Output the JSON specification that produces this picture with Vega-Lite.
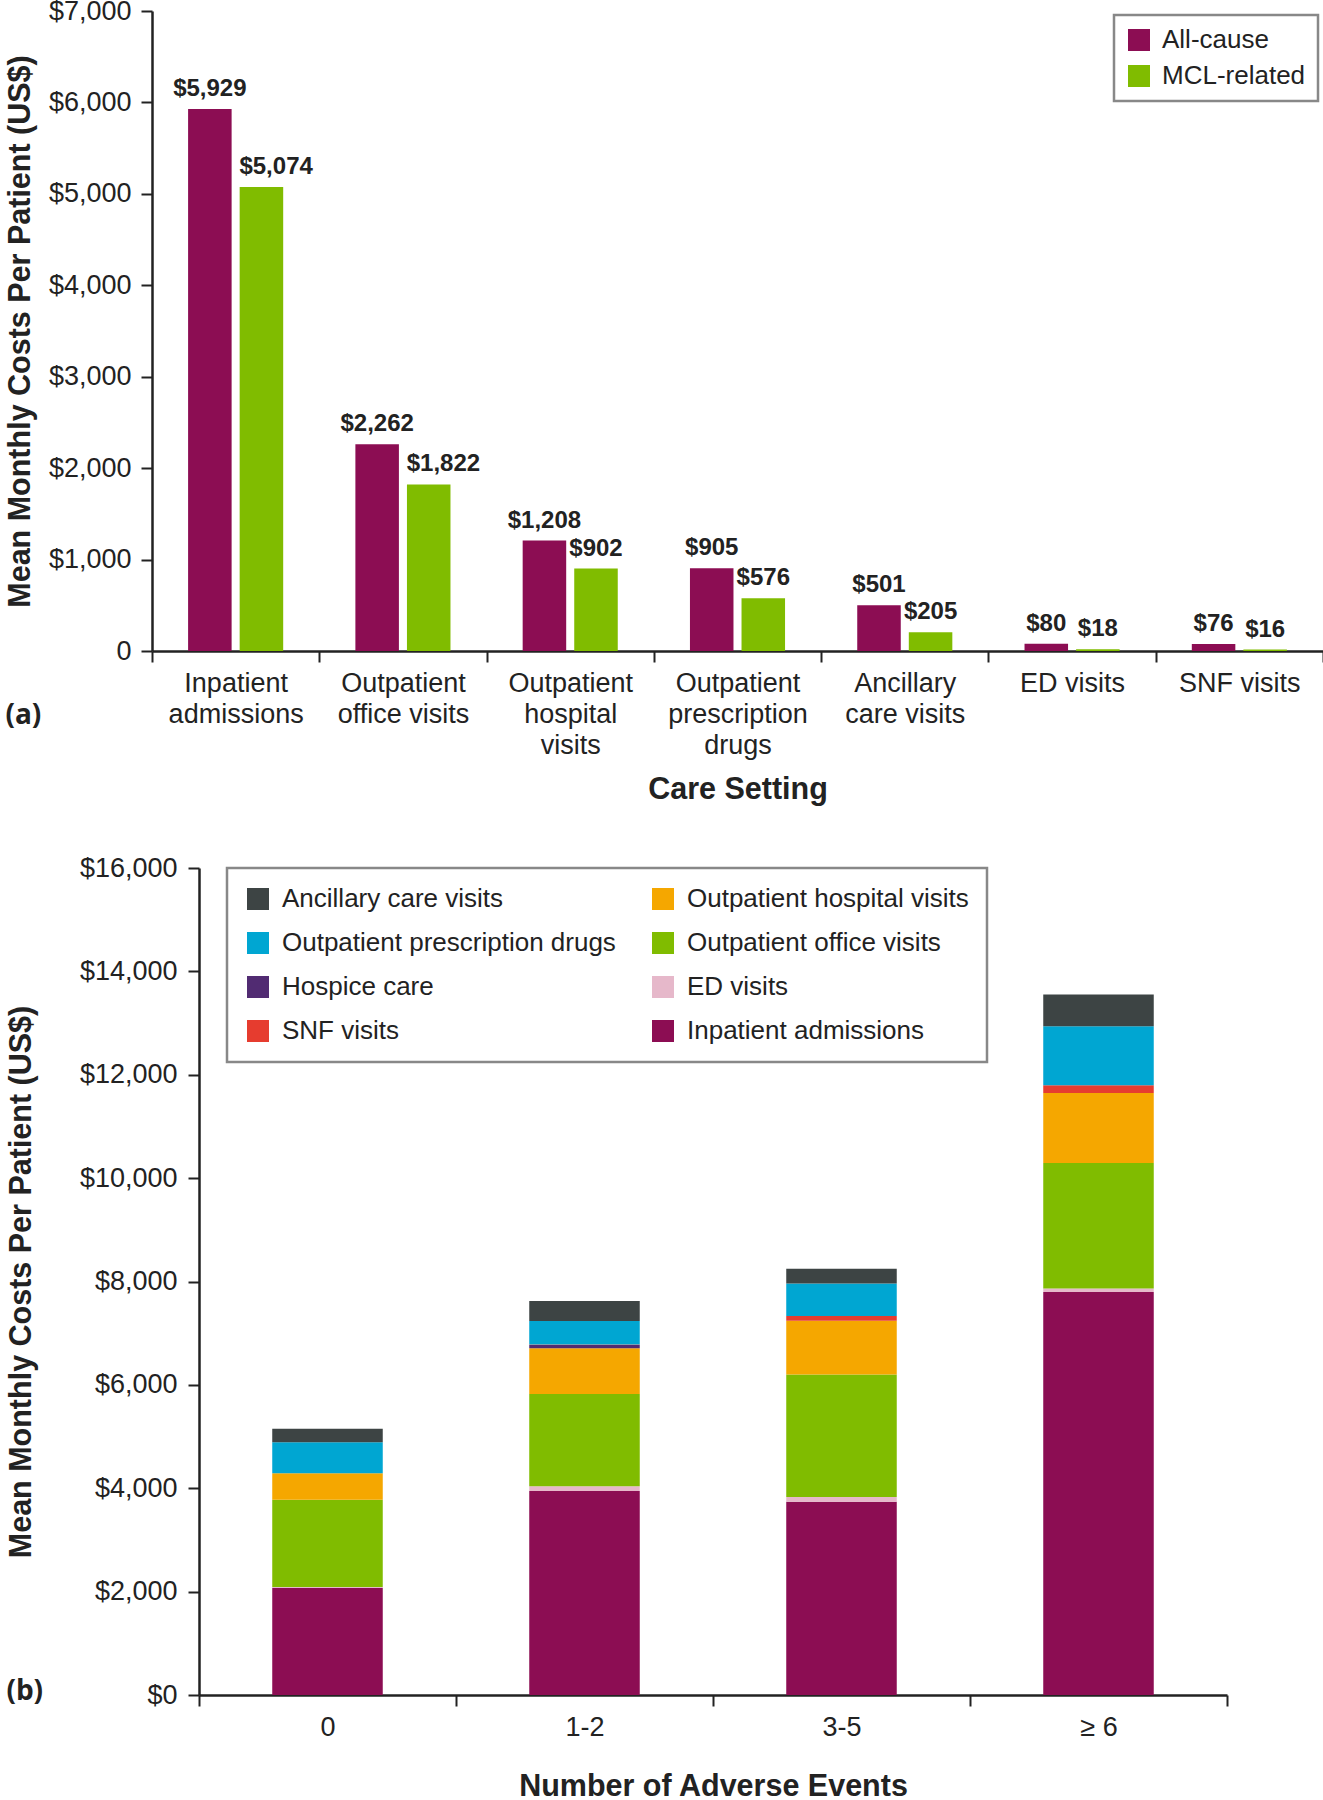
{
  "$schema": "https://vega.github.io/schema/vega-lite/v6.json",
  "padding": {"left": 5, "top": -3, "right": 0, "bottom": 0},
  "background": "white",
  "spacing": 49,
  "config": {
    "font": "Liberation Sans",
    "view": {"stroke": null},
    "axis": {
      "labelFont": "Liberation Sans", "labelFontSize": 27, "labelColor": "#222",
      "titleFont": "Liberation Sans", "titleFontSize": 30.5, "titleFontWeight": "bold", "titleColor": "#222",
      "domainColor": "#222", "domainWidth": 2.5, "tickColor": "#222", "tickWidth": 2, "tickSize": 11, "grid": false
    },
    "legend": {"strokeWidth": 2.5, "labelFont": "Liberation Sans", "labelFontSize": 26, "labelColor": "#222", "labelLimit": 600}
  },
  "resolve": {"scale": {"color": "independent"}, "legend": {"color": "independent"}},
  "vconcat": [
    {
      "width": 1171,
      "height": 640,
      "title": {"text": "(a)", "orient": "bottom", "anchor": "start", "frame": "bounds", "font": "Open Sans", "fontWeight": "bold", "fontSize": 28, "color": "#222", "dy": -107},
      "data": {"values": [
        {"setting": "Inpatient admissions", "type": "All-cause", "cost": 5929},
        {"setting": "Inpatient admissions", "type": "MCL-related", "cost": 5074},
        {"setting": "Outpatient office visits", "type": "All-cause", "cost": 2262},
        {"setting": "Outpatient office visits", "type": "MCL-related", "cost": 1822},
        {"setting": "Outpatient hospital visits", "type": "All-cause", "cost": 1208},
        {"setting": "Outpatient hospital visits", "type": "MCL-related", "cost": 902},
        {"setting": "Outpatient prescription drugs", "type": "All-cause", "cost": 905},
        {"setting": "Outpatient prescription drugs", "type": "MCL-related", "cost": 576},
        {"setting": "Ancillary care visits", "type": "All-cause", "cost": 501},
        {"setting": "Ancillary care visits", "type": "MCL-related", "cost": 205},
        {"setting": "ED visits", "type": "All-cause", "cost": 80},
        {"setting": "ED visits", "type": "MCL-related", "cost": 18},
        {"setting": "SNF visits", "type": "All-cause", "cost": 76},
        {"setting": "SNF visits", "type": "MCL-related", "cost": 16}
      ]},
      "encoding": {
        "x": {
          "field": "setting", "type": "nominal",
          "sort": ["Inpatient admissions", "Outpatient office visits", "Outpatient hospital visits", "Outpatient prescription drugs", "Ancillary care visits", "ED visits", "SNF visits"],
          "scale": {"paddingInner": 0, "paddingOuter": 0},
          "axis": {
            "title": "Care Setting", "labelAngle": 0, "tickBand": "extent", "labelPadding": 8, "titlePadding": 16,
            "labelLineHeight": 31, "labelBaseline": "top",
            "labelExpr": "datum.value == 'Inpatient admissions' ? ['Inpatient','admissions'] : datum.value == 'Outpatient office visits' ? ['Outpatient','office visits'] : datum.value == 'Outpatient hospital visits' ? ['Outpatient','hospital','visits'] : datum.value == 'Outpatient prescription drugs' ? ['Outpatient','prescription','drugs'] : datum.value == 'Ancillary care visits' ? ['Ancillary','care visits'] : datum.label"
          }
        },
        "xOffset": {"field": "type", "type": "nominal", "sort": ["All-cause", "MCL-related"], "scale": {"paddingInner": 0.156, "paddingOuter": 0.7}},
        "y": {
          "field": "cost", "type": "quantitative",
          "scale": {"domain": [0, 7000], "nice": false},
          "axis": {
            "title": "Mean Monthly Costs Per Patient (US$)", "values": [0, 1000, 2000, 3000, 4000, 5000, 6000, 7000],
            "labelExpr": "datum.value == 0 ? '0' : '$' + format(datum.value, ',')",
            "labelPadding": 10, "titlePadding": 13
          }
        }
      },
      "layer": [
        {
          "mark": {"type": "bar"},
          "encoding": {
            "color": {
              "field": "type", "type": "nominal",
              "scale": {"domain": ["All-cause", "MCL-related"], "range": ["#8C0D53", "#80BC00"]},
              "legend": {"title": null, "orient": "none", "legendX": 962, "legendY": 4, "symbolType": "square", "symbolSize": 484, "symbolStrokeWidth": 0, "strokeColor": "#888", "padding": 12, "rowPadding": 10, "labelOffset": 10}
            }
          }
        },
        {
          "transform": [{"filter": "datum.type == 'All-cause' || datum.cost < 1000"}],
          "mark": {"type": "text", "fontWeight": "bold", "fontSize": 24, "baseline": "bottom", "dy": -8, "color": "#222"},
          "encoding": {"text": {"field": "cost", "type": "quantitative", "format": "$,.0f"}}
        },
        {
          "transform": [{"filter": "datum.type == 'MCL-related' && datum.cost >= 1000"}],
          "mark": {"type": "text", "fontWeight": "bold", "fontSize": 24, "baseline": "bottom", "align": "left", "dx": -22, "dy": -8, "color": "#222"},
          "encoding": {"text": {"field": "cost", "type": "quantitative", "format": "$,.0f"}}
        }
      ]
    },
    {
      "width": 1075,
      "height": 827,
      "title": {"text": "(b)", "orient": "bottom", "anchor": "start", "frame": "bounds", "font": "Open Sans", "fontWeight": "bold", "fontSize": 28, "color": "#222", "dy": -128},
      "data": {"values": [
        {"events": "0", "category": "Inpatient admissions", "cost": 2074},
        {"events": "0", "category": "ED visits", "cost": 15},
        {"events": "0", "category": "Outpatient office visits", "cost": 1690},
        {"events": "0", "category": "Outpatient hospital visits", "cost": 511},
        {"events": "0", "category": "Hospice care", "cost": 0},
        {"events": "0", "category": "SNF visits", "cost": 0},
        {"events": "0", "category": "Outpatient prescription drugs", "cost": 600},
        {"events": "0", "category": "Ancillary care visits", "cost": 262},
        {"events": "1-2", "category": "Inpatient admissions", "cost": 3948},
        {"events": "1-2", "category": "ED visits", "cost": 89},
        {"events": "1-2", "category": "Outpatient office visits", "cost": 1785},
        {"events": "1-2", "category": "Outpatient hospital visits", "cost": 889},
        {"events": "1-2", "category": "Hospice care", "cost": 60},
        {"events": "1-2", "category": "SNF visits", "cost": 10},
        {"events": "1-2", "category": "Outpatient prescription drugs", "cost": 455},
        {"events": "1-2", "category": "Ancillary care visits", "cost": 385},
        {"events": "3-5", "category": "Inpatient admissions", "cost": 3741},
        {"events": "3-5", "category": "ED visits", "cost": 88},
        {"events": "3-5", "category": "Outpatient office visits", "cost": 2370},
        {"events": "3-5", "category": "Outpatient hospital visits", "cost": 1040},
        {"events": "3-5", "category": "Hospice care", "cost": 0},
        {"events": "3-5", "category": "SNF visits", "cost": 95},
        {"events": "3-5", "category": "Outpatient prescription drugs", "cost": 625},
        {"events": "3-5", "category": "Ancillary care visits", "cost": 290},
        {"events": "≥ 6", "category": "Inpatient admissions", "cost": 7796},
        {"events": "≥ 6", "category": "ED visits", "cost": 70},
        {"events": "≥ 6", "category": "Outpatient office visits", "cost": 2428},
        {"events": "≥ 6", "category": "Outpatient hospital visits", "cost": 1355},
        {"events": "≥ 6", "category": "Hospice care", "cost": 0},
        {"events": "≥ 6", "category": "SNF visits", "cost": 147},
        {"events": "≥ 6", "category": "Outpatient prescription drugs", "cost": 1142},
        {"events": "≥ 6", "category": "Ancillary care visits", "cost": 614}
      ]},
      "transform": [
        {"calculate": "indexof(['Inpatient admissions','ED visits','Outpatient office visits','Outpatient hospital visits','Hospice care','SNF visits','Outpatient prescription drugs','Ancillary care visits'], datum.category)", "as": "stackOrder"}
      ],
      "mark": {"type": "bar", "width": {"band": 0.43}},
      "encoding": {
        "x": {
          "field": "events", "type": "nominal", "sort": ["0", "1-2", "3-5", "≥ 6"],
          "scale": {"paddingInner": 0, "paddingOuter": 0, "range": [47, 1075]},
          "axis": {"title": "Number of Adverse Events", "labelAngle": 0, "tickBand": "extent", "labelPadding": 8, "titlePadding": 31}
        },
        "y": {
          "field": "cost", "type": "quantitative", "stack": "zero",
          "scale": {"domain": [0, 16000], "nice": false},
          "axis": {
            "title": "Mean Monthly Costs Per Patient (US$)", "values": [0, 2000, 4000, 6000, 8000, 10000, 12000, 14000, 16000],
            "format": "$,.0f", "labelPadding": 11, "titlePadding": 43, "offset": -47
          }
        },
        "color": {
          "field": "category", "type": "nominal",
          "scale": {
            "domain": ["Ancillary care visits", "Outpatient prescription drugs", "Hospice care", "SNF visits", "Outpatient hospital visits", "Outpatient office visits", "ED visits", "Inpatient admissions"],
            "range": ["#3D4444", "#00A6D2", "#512B72", "#E63C2F", "#F5A700", "#80BC00", "#E6B8CA", "#8C0D53"]
          },
          "legend": {"title": null, "orient": "none", "legendX": 75, "legendY": 0, "columns": 2, "columnPadding": 34, "symbolType": "square", "symbolSize": 484, "symbolStrokeWidth": 0, "strokeColor": "#888", "padding": 18, "rowPadding": 18, "labelOffset": 11}
        },
        "order": {"field": "stackOrder", "type": "quantitative"}
      }
    }
  ]
}
